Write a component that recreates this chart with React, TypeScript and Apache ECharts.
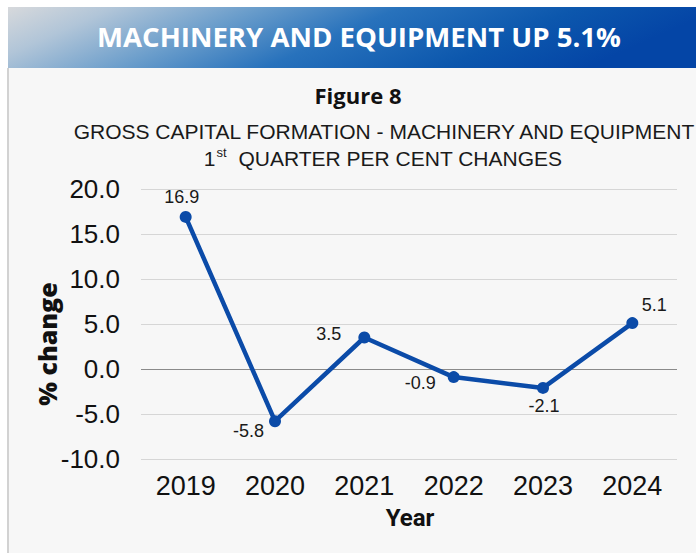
import React, { useEffect, useRef } from "react";
import * as echarts from "echarts";

const years = ["2019", "2020", "2021", "2022", "2023", "2024"];
const changes = [16.9, -5.8, 3.5, -0.9, -2.1, 5.1];
const yTicks = { min: -10, max: 20, interval: 5 };
const bannerText = "MACHINERY AND EQUIPMENT UP 5.1%";
const figureTitle = "Figure 8";
const subtitle1 = "GROSS CAPITAL FORMATION - MACHINERY AND EQUIPMENT";

const labelPlacement: any[] = [
  { position: "top", offset: [-4, 0] },
  { position: "left", offset: [0, 10], distance: 5 },
  { position: "left", offset: [0, -4], distance: 17 },
  { position: "left", offset: [0, 6], distance: 12 },
  { position: "bottom", offset: [1, 0], distance: 3 },
  { position: "top", offset: [22, 2] },
];

export default function App() {
  const ref = useRef<HTMLDivElement>(null);
  useEffect(() => {
    if (!ref.current) return;
    const chart = echarts.init(ref.current, undefined, { renderer: "svg" });
    const lineColor = "#0b4ba8";
    const gridColors = ["#d6d6d6", "#d6d6d6", "#8a8a8a", "#d6d6d6", "#d6d6d6", "#d6d6d6", "#d6d6d6"];
    chart.setOption({
      animation: false,
      backgroundColor: "#ffffff",
      graphic: [
        {
          type: "rect",
          z: -100,
          shape: { x: 8, y: 68, width: 688, height: 485 },
          style: { fill: "#f7f7f7" },
        },
        {
          type: "rect",
          z: -99,
          shape: { x: 7, y: 68, width: 2, height: 485 },
          style: { fill: "#d2d2d2" },
        },
        {
          type: "rect",
          z: -98,
          shape: { x: 8, y: 7, width: 688, height: 61 },
          style: {
            fill: new echarts.graphic.LinearGradient(0, 0, 1, 0.2, [
              { offset: 0, color: "#d7d9dc" },
              { offset: 0.15, color: "#b1c5d8" },
              { offset: 0.35, color: "#6a9dcb" },
              { offset: 0.55, color: "#2872bc" },
              { offset: 0.8, color: "#0c57ad" },
              { offset: 1, color: "#0445a6" },
            ]),
          },
        },
        {
          type: "text",
          z: 100,
          x: 359,
          y: 36,
          style: {
            text: bannerText,
            fill: "#ffffff",
            font: "bold 27.6px 'Open Sans'",
            align: "center",
            verticalAlign: "middle",
          },
        },
        {
          type: "text",
          z: 100,
          x: 358,
          y: 95,
          style: {
            text: figureTitle,
            fill: "#111111",
            font: "bold 22px 'Open Sans'",
            align: "center",
            verticalAlign: "middle",
          },
        },
        {
          type: "text",
          z: 100,
          x: 384,
          y: 131,
          style: {
            text: subtitle1,
            fill: "#1a1a1a",
            font: "21px 'Liberation Sans'",
            align: "center",
            verticalAlign: "middle",
          },
        },
        {
          type: "text",
          z: 100,
          x: 383,
          y: 158,
          style: {
            text: "{n|1}{s|st}{n|  QUARTER PER CENT CHANGES}",
            align: "center",
            verticalAlign: "middle",
            rich: {
              n: { fontFamily: "Liberation Sans", fontSize: 21, fill: "#1a1a1a", lineHeight: 24 },
              s: { fontFamily: "Liberation Sans", fontSize: 13, fill: "#1a1a1a", lineHeight: 24, verticalAlign: "top", padding: [0, 0, 10, 1] },
            },
          },
        },
        {
          type: "text",
          z: 100,
          x: 47,
          y: 344,
          rotation: Math.PI / 2,
          style: {
            text: "% change",
            fill: "#111111",
            font: "800 25px 'Open Sans'",
            align: "center",
            verticalAlign: "middle",
          },
        },
        {
          type: "text",
          z: 100,
          x: 410,
          y: 518,
          style: {
            text: "Year",
            fill: "#111111",
            font: "bold 24px Roboto",
            align: "center",
            verticalAlign: "middle",
          },
        },
      ],
      grid: { left: 141, right: 19, top: 189, bottom: 94, containLabel: false },
      xAxis: {
        type: "category",
        data: years,
        boundaryGap: true,
        axisLine: { show: false },
        axisTick: { show: false },
        axisLabel: {
          fontFamily: "Liberation Sans",
          fontSize: 27,
          color: "#111111",
          margin: 13,
        },
      },
      yAxis: {
        type: "value",
        min: yTicks.min,
        max: yTicks.max,
        interval: yTicks.interval,
        axisLine: { show: false },
        axisTick: { show: false },
        axisLabel: {
          fontFamily: "Liberation Sans",
          fontSize: 26,
          color: "#111111",
          margin: 21,
          formatter: (v: number) => v.toFixed(1),
        },
        splitLine: { show: true, lineStyle: { color: gridColors, width: 1.2 } },
      },
      series: [
        {
          type: "line",
          data: changes.map((v, i) => ({
            value: v,
            label: {
              show: true,
              position: labelPlacement[i].position,
              offset: labelPlacement[i].offset,
              distance: labelPlacement[i].distance ?? 5,
            },
          })),
          symbol: "circle",
          symbolSize: 12,
          lineStyle: { color: lineColor, width: 4.5 },
          itemStyle: { color: lineColor },
          label: {
            show: true,
            fontFamily: "Liberation Sans",
            fontSize: 18,
            color: "#1a1a1a",
            formatter: (p: any) => Number(p.value).toFixed(1),
          },
        },
      ],
    });
    return () => chart.dispose();
  }, []);
  return (
    <div
      ref={ref}
      style={{ position: "fixed", left: 0, top: 0, width: 696, height: 553 }}
    />
  );
}
